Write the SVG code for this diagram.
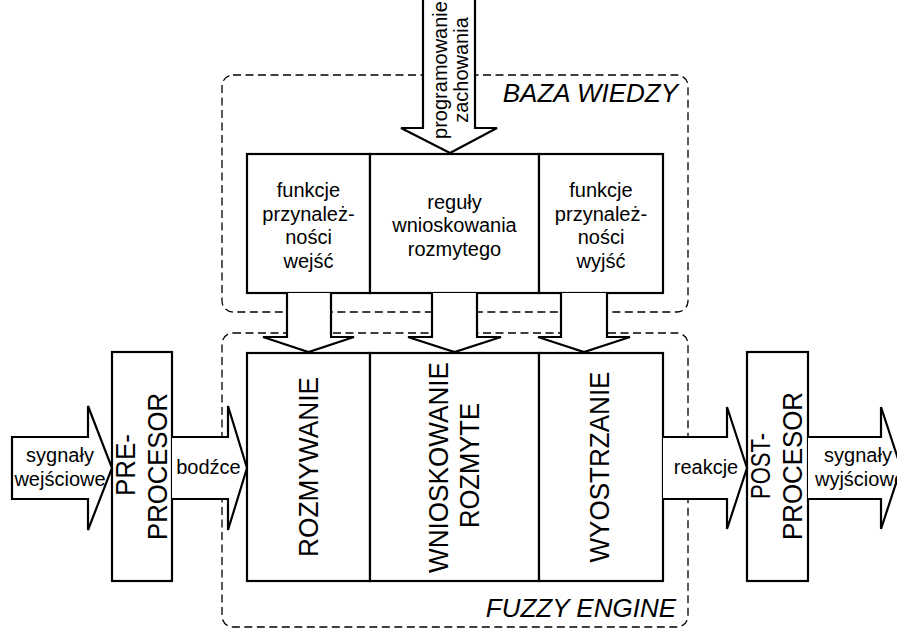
<svg xmlns="http://www.w3.org/2000/svg" width="897" height="628" viewBox="0 0 897 628">
  <style>
    .box { fill: #fff; stroke: #000; stroke-width: 2.2; }
    .arrow { fill: #fff; stroke: #000; stroke-width: 2.2; stroke-linejoin: miter; }
    .zone { fill: none; stroke: #000; stroke-width: 1.3; stroke-dasharray: 8 4.5; }
    .t { font-family: "Liberation Sans", Arial, sans-serif; font-size: 20px; fill: #000; text-anchor: middle; }
    .big { font-family: "Liberation Sans", Arial, sans-serif; font-size: 28px; fill: #000; text-anchor: middle; }
    .zlabel { font-family: "Liberation Sans", Arial, sans-serif; font-size: 26px; font-style: italic; fill: #000; text-anchor: end; }
  </style>
  <rect width="897" height="628" fill="#fff"/>

  <!-- dashed zones -->
  <g id="zones">
    <g id="baza-wiedzy">
      <rect class="zone" x="222" y="75" width="466" height="237" rx="11" ry="11"/>
      <text class="zlabel" x="678" y="102">BAZA WIEDZY</text>
    </g>
    <g id="fuzzy-engine">
      <rect class="zone" x="222" y="333" width="466" height="294" rx="11" ry="11"/>
      <text class="zlabel" x="676" y="617">FUZZY ENGINE</text>
    </g>
  </g>

  <!-- knowledge base blocks -->
  <g id="mf-in">
    <rect class="box" x="247" y="154" width="123" height="139"/>
    <text class="t" x="308.5" y="197">funkcje</text>
    <text class="t" x="308.5" y="220.5">przynależ-</text>
    <text class="t" x="308.5" y="244">ności</text>
    <text class="t" x="308.5" y="267.5">wejść</text>
  </g>
  <g id="rules">
    <rect class="box" x="370" y="154" width="169" height="139"/>
    <text class="t" x="454.5" y="208.5">reguły</text>
    <text class="t" x="454.5" y="232">wnioskowania</text>
    <text class="t" x="454.5" y="255.5">rozmytego</text>
  </g>
  <g id="mf-out">
    <rect class="box" x="539" y="154" width="124" height="139"/>
    <text class="t" x="601" y="197">funkcje</text>
    <text class="t" x="601" y="220.5">przynależ-</text>
    <text class="t" x="601" y="244">ności</text>
    <text class="t" x="601" y="267.5">wyjść</text>
  </g>

  <!-- fuzzy engine blocks -->
  <g id="fuzzification">
    <rect class="box" x="247" y="353" width="123" height="228"/>
    <text class="big" transform="translate(318,467) rotate(-90)" textLength="180" lengthAdjust="spacingAndGlyphs">ROZMYWANIE</text>
  </g>
  <g id="inference">
    <rect class="box" x="370" y="353" width="169" height="228"/>
    <text class="big" transform="translate(448,467.5) rotate(-90)" textLength="211" lengthAdjust="spacingAndGlyphs">WNIOSKOWANIE</text>
    <text class="big" transform="translate(479,465.5) rotate(-90)" textLength="125" lengthAdjust="spacingAndGlyphs">ROZMYTE</text>
  </g>
  <g id="defuzzification">
    <rect class="box" x="539" y="353" width="124" height="228"/>
    <text class="big" transform="translate(609,467) rotate(-90)" textLength="191" lengthAdjust="spacingAndGlyphs">WYOSTRZANIE</text>
  </g>

  <!-- pre / post processors -->
  <g id="preprocessor">
    <rect class="box" x="112" y="352" width="60" height="229"/>
    <text class="big" transform="translate(135,465) rotate(-90)" textLength="62" lengthAdjust="spacingAndGlyphs">PRE-</text>
    <text class="big" transform="translate(167,466.5) rotate(-90)" textLength="147" lengthAdjust="spacingAndGlyphs">PROCESOR</text>
  </g>
  <g id="postprocessor">
    <rect class="box" x="747" y="352" width="61" height="229"/>
    <text class="big" transform="translate(770,466) rotate(-90)" textLength="66" lengthAdjust="spacingAndGlyphs">POST-</text>
    <text class="big" transform="translate(802,466) rotate(-90)" textLength="148" lengthAdjust="spacingAndGlyphs">PROCESOR</text>
  </g>

  <!-- block arrows -->
  <g id="connectors">
    <g id="programming">
      <polygon class="arrow" points="423,-3 475,-3 475,128 497,128 450,153 401,128 423,128"/>
      <text class="t" transform="translate(447,70) rotate(-90)">programowanie</text>
      <text class="t" transform="translate(468,70) rotate(-90)">zachowania</text>
    </g>
    <polyline class="arrow" points="287,293 287,337 263,337 308.5,352 354,337 331,337 331,293"/>
    <polyline class="arrow" points="432,293 432,337 408,337 454.5,352 501,337 477,337 477,293"/>
    <polyline class="arrow" points="561,293 561,337 538,337 584,352 630,337 607,337 607,293"/>

    <g id="input-signals">
      <polygon class="arrow" points="12,437 88,437 88,406 112,468 88,530 88,499 12,499"/>
      <text class="t" x="60" y="462">sygnały</text>
      <text class="t" x="60" y="486">wejściowe</text>
    </g>
    <g id="stimuli">
      <polyline class="arrow" points="172,437 228,437 228,406 247,468 228,530 228,499 172,499"/>
      <text class="t" x="208.5" y="474">bodźce</text>
    </g>
    <g id="reactions">
      <polyline class="arrow" points="663,437 727,437 727,407 747,468 727,529 727,499 663,499"/>
      <text class="t" x="706" y="474">reakcje</text>
    </g>
    <g id="output-signals">
      <polyline class="arrow" points="808,437 881,437 881,407 901,468 881,529 881,499 808,499"/>
      <text class="t" x="858" y="462">sygnały</text>
      <text class="t" x="860" y="486">wyjściowe</text>
    </g>
  </g>
</svg>
